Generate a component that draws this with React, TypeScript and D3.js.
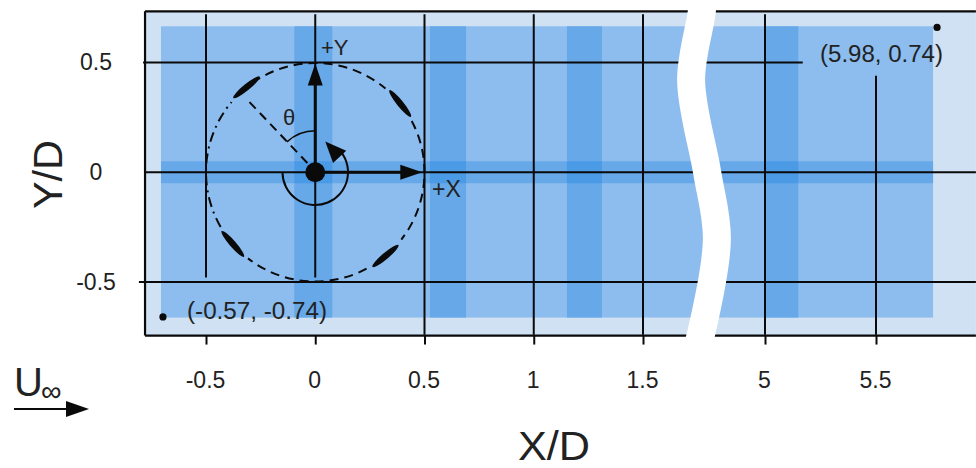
import React, { useEffect, useRef } from 'react'
import * as d3 from 'd3'

const xTicks = [-0.5, 0, 0.5, 1, 1.5, 5, 5.5]
const yTicks = [-0.5, 0, 0.5]

// grid lines, extents read in X/D and Y/D units
const gridXTop = [0.72, 0.72, 0.72, 0.72, 0.72, 0.72, 0.44]
const gridXBottom = [-0.48, -0.48, -0.74, -0.74, -0.74, -0.74, -0.74]
const gridYLeft = [-0.807, -0.779, -0.788]
const gridYRight = [5.95, 5.95, 5.17]

const bandsX = [[-0.096, 0.078], [0.525, 0.69], [1.152, 1.312], [4.99, 5.15]]
const bandY = [-0.05, 0.05]
const frameX = [-0.779, 5.95]
const frameY = [-0.744, 0.733]
const regionX = [-0.706, 5.757]
const regionY = [-0.662, 0.665]

const cornerPoints = [[-0.697, -0.659], [5.775, 0.66]]

// clockwise degrees from +Y
const slotAngles = [51, 140, 229, 321]
const dashedSectors = [[-35, 40], [62, 128], [152, 218]]
const dashDotSectors = [[240, 310]]

const breakX = [3.19, 3.19, 2.88, 3.34, 3.62, 3.16, 3.05]
const breakY = [0.8, 0.736, 0.42, 0, -0.305, -0.74, -0.8]

const font = '"Liberation Sans", Arial, sans-serif'

function App() {
  const svgRef = useRef<SVGSVGElement>(null)

  useEffect(() => {
    const svg = d3.select(svgRef.current)
    svg.selectAll('*').remove()

    const x = d3.scaleLinear().domain([-0.5, 1.5, 5, 5.5]).range([206, 643, 765, 876])
    const y = d3.scaleLinear().domain([-0.5, 0.5]).range([282, 62.5])
    const r = x(0.5) - x(0)

    const rad = (d: number) => ((d - 90) * Math.PI) / 180
    const arcPath = (radius: number, a0: number, a1: number) => {
      const p = d3.path()
      p.arc(x(0), y(0), radius, rad(a0), rad(a1))
      return p.toString()
    }

    // shaded regions
    svg.append('rect')
      .attr('x', x(frameX[0])).attr('y', y(frameY[1]))
      .attr('width', x(frameX[1]) - x(frameX[0])).attr('height', y(frameY[0]) - y(frameY[1]))
      .attr('fill', '#cfe1f2')
    svg.append('rect')
      .attr('x', x(regionX[0])).attr('y', y(regionY[1]))
      .attr('width', x(regionX[1]) - x(regionX[0])).attr('height', y(regionY[0]) - y(regionY[1]))
      .attr('fill', '#8cbdee')
    svg.append('rect')
      .attr('x', x(regionX[0])).attr('y', y(bandY[1]))
      .attr('width', x(regionX[1]) - x(regionX[0])).attr('height', y(bandY[0]) - y(bandY[1]))
      .attr('fill', '#66a8e8')
    svg.selectAll('.bandx').data(bandsX).join('rect')
      .attr('x', d => x(d[0])).attr('y', y(regionY[1]))
      .attr('width', d => x(d[1]) - x(d[0])).attr('height', y(regionY[0]) - y(regionY[1]))
      .attr('fill', '#66a8e8')
    svg.selectAll('.cross').data(bandsX).join('rect')
      .attr('x', d => x(d[0])).attr('y', y(bandY[1]))
      .attr('width', d => x(d[1]) - x(d[0])).attr('height', y(bandY[0]) - y(bandY[1]))
      .attr('fill', '#4a9ae6')

    // grid
    const grid = svg.append('g').attr('stroke', '#0a0a0a').attr('stroke-width', 2)
    xTicks.forEach((t, i) => {
      grid.append('line').attr('x1', x(t)).attr('x2', x(t)).attr('y1', y(gridXTop[i])).attr('y2', y(gridXBottom[i]))
    })
    yTicks.forEach((t, i) => {
      grid.append('line').attr('x1', x(gridYLeft[i])).attr('x2', x(gridYRight[i])).attr('y1', y(t)).attr('y2', y(t))
    })

    // frame
    const frame = svg.append('g').attr('stroke', '#0a0a0a').attr('stroke-width', 2.2)
    frame.append('line').attr('x1', x(frameX[0])).attr('x2', x(frameX[1])).attr('y1', y(frameY[1])).attr('y2', y(frameY[1]))
    frame.append('line').attr('x1', x(frameX[0])).attr('x2', x(frameX[1])).attr('y1', y(frameY[0])).attr('y2', y(frameY[0]))
    frame.append('line').attr('x1', x(frameX[0])).attr('x2', x(frameX[0])).attr('y1', y(frameY[1])).attr('y2', y(frameY[0]))

    // axes
    const xAxis = svg.append('g')
      .attr('transform', `translate(0, ${y(frameY[0])})`)
      .call(d3.axisBottom(x).tickValues(xTicks).tickSize(9).tickPadding(27).tickFormat(d => String(d)))
    const yAxis = svg.append('g')
      .attr('transform', 'translate(96, 0)')
      .call(d3.axisLeft(y).tickValues(yTicks).tickSize(0).tickPadding(0).tickFormat(d => String(d)))
    xAxis.select('.domain').remove()
    yAxis.select('.domain').remove()
    xAxis.selectAll('line').attr('stroke', '#0a0a0a').attr('stroke-width', 2)
    xAxis.selectAll('text').attr('font-family', font).attr('font-size', 23).attr('fill', '#222').attr('dx', -1)
    yAxis.selectAll('text').attr('font-family', font).attr('font-size', 23).attr('fill', '#222').attr('text-anchor', 'middle').attr('x', 0)

    // model circle
    const circle = svg.append('g').attr('fill', 'none').attr('stroke', '#0a0a0a').attr('stroke-width', 2)
    dashedSectors.forEach(s => {
      circle.append('path').attr('d', arcPath(r, s[0], s[1])).attr('stroke-dasharray', '9 6')
    })
    dashDotSectors.forEach(s => {
      circle.append('path').attr('d', arcPath(r, s[0], s[1])).attr('stroke-dasharray', '10 5 2 5')
    })
    svg.selectAll('.slot').data(slotAngles).join('ellipse')
      .attr('rx', 17).attr('ry', 3.2)
      .attr('transform', d => `translate(${x(0) + r * Math.sin((d * Math.PI) / 180)}, ${y(0) - r * Math.cos((d * Math.PI) / 180)}) rotate(${d})`)
      .attr('fill', '#0a0a0a')

    // theta line and arcs
    svg.append('line')
      .attr('x1', x(-0.036)).attr('y1', y(0.042)).attr('x2', x(-0.311)).attr('y2', y(0.33))
      .attr('stroke', '#0a0a0a').attr('stroke-width', 2).attr('stroke-dasharray', '9 6')
    svg.append('path').attr('d', arcPath(r * 0.38, -43, 0)).attr('fill', 'none').attr('stroke', '#0a0a0a').attr('stroke-width', 1.6)
    svg.append('path').attr('d', arcPath(r * 0.3, 45, 270)).attr('fill', 'none').attr('stroke', '#0a0a0a').attr('stroke-width', 2)

    // arrows
    svg.append('line').attr('x1', x(0)).attr('y1', y(0)).attr('x2', x(0)).attr('y2', y(0.4))
      .attr('stroke', '#0a0a0a').attr('stroke-width', 3)
    svg.append('line').attr('x1', x(0)).attr('y1', y(0)).attr('x2', x(0.4)).attr('y2', y(0))
      .attr('stroke', '#0a0a0a').attr('stroke-width', 3)
    const head = (tipX: number, tipY: number, angle: number, len: number, wid: number) => {
      svg.append('path')
        .attr('d', d3.line()([[0, 0], [-len, -wid / 2], [-len, wid / 2]]) + 'Z')
        .attr('transform', `translate(${tipX}, ${tipY}) rotate(${angle})`)
        .attr('fill', '#0a0a0a')
    }
    head(x(0), y(0.495), -90, 22, 15)
    head(x(0.49), y(0), 0, 22, 15)
    head(x(0.046), y(0.14), -133, 21, 18)

    svg.append('circle').attr('cx', x(0)).attr('cy', y(0)).attr('r', 10).attr('fill', '#0a0a0a')
    svg.selectAll('.pt').data(cornerPoints).join('circle')
      .attr('cx', d => x(d[0])).attr('cy', d => y(d[1])).attr('r', 3.6).attr('fill', '#0a0a0a')

    // break in the axis
    const breakLine = d3.line<number>()
      .x(d => x(d))
      .y((_, i) => y(breakY[i]))
      .curve(d3.curveCatmullRom)
    svg.append('path').attr('d', breakLine(breakX)).attr('fill', 'none').attr('stroke', 'white').attr('stroke-width', 28)

    // labels
    const label = (text: string, px: number, py: number, size: number, length?: number) => {
      const t = svg.append('text').attr('x', px).attr('y', py).attr('font-family', font)
        .attr('font-size', size).attr('fill', '#222').text(text)
      if (length) t.attr('textLength', length).attr('lengthAdjust', 'spacingAndGlyphs')
      return t
    }
    label('+Y', 321, 55, 22)
    label('+X', 432, 197, 23)
    label('θ', 283, 125, 22)
    label('(-0.57, -0.74)', 187, 319, 23, 140)
    label('(5.98, 0.74)', 820, 62, 23, 123)
    label('X/D', 518, 460, 40, 72)
    label('U', 14, 396, 40)
    label('∞', 41, 401, 29)
    label('Y/D', 0, 0, 41, 69).attr('transform', 'translate(62, 209) rotate(-90)')

    // free stream arrow
    svg.append('line').attr('x1', x(-0.5) - 192).attr('x2', x(-0.5) - 130).attr('y1', 409).attr('y2', 409)
      .attr('stroke', '#0a0a0a').attr('stroke-width', 2)
    head(89, 409, 0, 23, 16)
  }, [])

  return (
    <svg ref={svgRef} width={976} height={468} style={{ position: 'absolute', left: 0, top: 0, background: 'white' }} />
  )
}

export default App
